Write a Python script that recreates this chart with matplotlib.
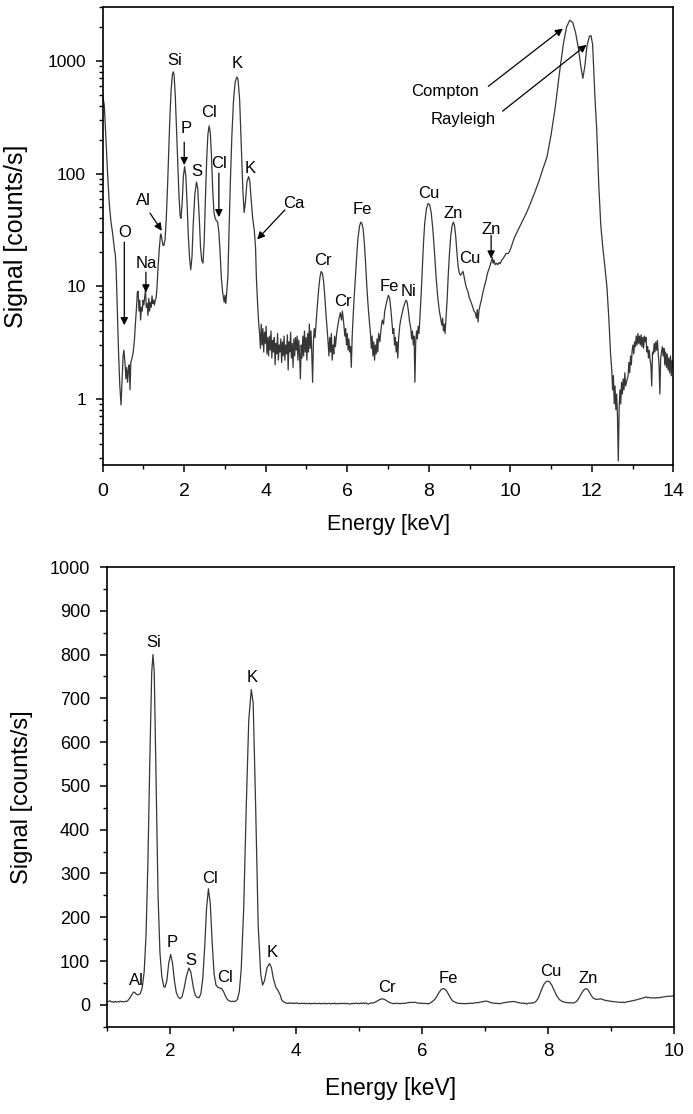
import numpy as np
import matplotlib
matplotlib.use("Agg")
import matplotlib.pyplot as plt
from matplotlib.ticker import MultipleLocator, LogLocator, NullFormatter

plt.rcParams['font.family'] = ['Liberation Sans', 'DejaVu Sans']

# spectrum (energy in keV, signal in counts/s)
energy_low = [0.00, 0.04, 0.08, 0.12, 0.16, 0.20, 0.24, 0.27, 0.29, 0.31, 0.33, 0.36, 0.39, 0.42, 0.45,
              0.48, 0.50, 0.52, 0.55, 0.57, 0.59, 0.61, 0.63, 0.65, 0.67, 0.69, 0.72, 0.75, 0.78, 0.80,
              0.83, 0.85, 0.87, 0.89, 0.91, 0.93, 0.95, 0.97, 0.99, 1.01, 1.03, 1.05, 1.07, 1.09, 1.11,
              1.13, 1.15, 1.17, 1.19, 1.21, 1.23, 1.25, 1.27, 1.29, 1.31, 1.33, 1.36, 1.39, 1.42, 1.44,
              1.46, 1.48, 1.50, 1.53, 1.56, 1.59, 1.62, 1.65, 1.68, 1.71, 1.73, 1.75, 1.78, 1.81, 1.84,
              1.87, 1.90, 1.92, 1.95, 1.98, 2.01, 2.04, 2.07, 2.10, 2.13, 2.16, 2.19, 2.22, 2.26, 2.30,
              2.33, 2.37, 2.40, 2.43, 2.46, 2.49, 2.52, 2.55, 2.58, 2.61, 2.64, 2.67, 2.70, 2.73, 2.76,
              2.79, 2.82, 2.85, 2.88, 2.91, 2.94, 2.96, 2.98, 3.00, 3.02, 3.04, 3.07, 3.10, 3.13, 3.17,
              3.21, 3.25, 3.29, 3.32, 3.36, 3.40, 3.44, 3.47, 3.50, 3.54, 3.58, 3.61, 3.64, 3.68, 3.72,
              3.75, 3.77, 3.80, 3.83]
signal_low = [500, 400, 200, 100, 55, 38, 30, 24, 21, 19, 14, 6, 2.5, 1.3, 0.88,
              1.6, 2.4, 2.7, 2.0, 1.5, 1.9, 1.4, 1.8, 2.0, 1.2, 2.1, 2.3, 2.6, 3.4, 4.5,
              6.5, 8.8, 9.0, 6.0, 7.5, 5.0, 6.5, 6.0, 7.5, 6.8, 8.0, 9.2, 6.5, 7.0, 5.5,
              7.8, 6.0, 7.2, 6.5, 8.2, 7.0, 7.5, 6.8, 7.6, 7.8, 9.5, 15, 22, 29, 28,
              25, 23, 23, 26, 40, 75, 160, 330, 560, 760, 800, 760, 500, 250, 120,
              65, 42, 40, 55, 95, 115, 95, 55, 28, 18, 14, 18, 35, 65, 84,
              75, 40, 22, 17, 16, 25, 60, 130, 220, 265, 230, 140, 70, 45, 40,
              38, 37, 30, 20, 12, 9, 8, 7.2, 8.3, 7.0, 8.5, 12, 30, 80, 220,
              450, 650, 720, 690, 450, 180, 70, 45, 55, 85, 94, 85, 60, 40, 31,
              22, 12, 7, 4.5]

energy_mid = [3.85, 3.87, 3.89, 3.91, 3.93, 3.95, 3.97, 3.99, 4.01, 4.03, 4.05, 4.07, 4.09, 4.11, 4.13,
              4.15, 4.17, 4.19, 4.21, 4.23, 4.25, 4.27, 4.29, 4.31, 4.33, 4.35, 4.37, 4.39, 4.41, 4.43,
              4.45, 4.47, 4.49, 4.51, 4.53, 4.55, 4.57, 4.59, 4.61, 4.63, 4.65, 4.67, 4.69, 4.71, 4.73,
              4.75, 4.77, 4.79, 4.81, 4.83, 4.85, 4.87, 4.89, 4.91, 4.93, 4.95, 4.97, 4.99, 5.01, 5.03,
              5.05, 5.07, 5.09, 5.11, 5.13, 5.15, 5.17, 5.19, 5.21, 5.24, 5.27, 5.30, 5.33, 5.36, 5.39,
              5.42, 5.45, 5.48, 5.51, 5.53, 5.55, 5.57, 5.59, 5.61, 5.63, 5.65, 5.67, 5.69, 5.71, 5.74,
              5.77, 5.80, 5.83, 5.86, 5.88, 5.90, 5.92, 5.94, 5.96, 5.98, 6.00, 6.02, 6.04, 6.06, 6.08,
              6.10, 6.12, 6.14, 6.17, 6.20, 6.23, 6.26, 6.30, 6.33, 6.36, 6.39, 6.42, 6.45, 6.48, 6.51,
              6.54, 6.57, 6.59, 6.61, 6.63, 6.65, 6.67, 6.69, 6.71, 6.73, 6.75, 6.77, 6.80, 6.83, 6.86,
              6.89, 6.92, 6.95, 6.98, 7.01, 7.04, 7.07, 7.10, 7.12, 7.14, 7.16, 7.18, 7.20, 7.22, 7.24,
              7.26, 7.29, 7.32, 7.35, 7.38, 7.41, 7.44, 7.47, 7.50, 7.53, 7.56, 7.58, 7.60, 7.62, 7.64,
              7.66, 7.68, 7.70, 7.72, 7.74, 7.76, 7.78]
signal_mid = [3.8, 2.8, 4.6, 3.0, 4.2, 2.6, 3.9, 3.1, 4.4, 2.5, 3.5, 2.4, 3.6, 2.7, 4.0,
              2.3, 3.3, 2.6, 3.5, 2.0, 3.1, 2.5, 3.8, 2.2, 3.0, 2.6, 3.4, 2.1, 3.2, 2.4,
              3.6, 2.2, 3.0, 2.5, 3.7, 1.8, 3.2, 2.6, 3.9, 2.3, 3.1, 1.9, 3.4, 2.4, 3.5,
              2.7, 3.6, 2.2, 3.3, 2.5, 1.5, 3.0, 2.3, 3.6, 2.4, 4.0, 2.6, 3.5, 2.2, 3.8,
              2.6, 4.6, 2.8, 4.0, 2.5, 1.4, 3.2, 4.2, 3.5, 5.0, 7.0, 9.5, 12, 13.5, 13,
              11, 8, 5.5, 4.0, 3.2, 2.4, 3.5, 2.6, 3.8, 2.2, 3.0, 2.5, 3.6, 2.9, 3.8,
              4.5, 5.2, 5.8, 5.0, 6.0, 5.2, 4.4, 3.6, 4.2, 3.0, 3.8, 2.7, 3.4, 2.6, 2.9,
              1.9, 3.5, 5.0, 8, 12, 18, 26, 34, 37, 36, 32, 24, 16, 10, 6.8,
              5.0, 3.8, 2.8, 3.6, 2.4, 3.2, 2.2, 3.0, 2.5, 3.4, 2.6, 3.8, 3.2, 4.2, 5.0,
              4.6, 6.0, 6.8, 7.6, 8.3, 7.8, 6.2, 4.6, 3.8, 4.2, 3.0, 3.5, 2.6, 3.2, 2.3,
              3.4, 4.5, 5.2, 5.8, 6.5, 7.0, 7.5, 7.2, 6.0, 4.8, 4.2, 3.4, 4.0, 3.0, 3.6,
              1.4, 3.2, 4.0, 3.4, 4.4, 3.8, 5.0]

energy_high = [7.81, 7.84, 7.87, 7.90, 7.94, 7.98, 8.02, 8.06, 8.10, 8.14, 8.18, 8.22, 8.26, 8.29, 8.32,
               8.34, 8.36, 8.38, 8.40, 8.42, 8.45, 8.48, 8.51, 8.54, 8.57, 8.60, 8.63, 8.66, 8.69, 8.72,
               8.75, 8.78, 8.81, 8.84, 8.87, 8.90, 8.93, 8.96, 8.99, 9.02, 9.05, 9.08, 9.11, 9.14, 9.17,
               9.19, 9.21, 9.23, 9.26, 9.29, 9.32, 9.35, 9.38, 9.41, 9.44, 9.47, 9.50, 9.53, 9.56, 9.58,
               9.60, 9.63, 9.66, 9.69, 9.72, 9.75, 9.78, 9.82, 9.86, 9.90, 9.95, 10.00, 10.10, 10.20, 10.30,
               10.40, 10.50, 10.60, 10.70, 10.80, 10.90, 11.00, 11.10, 11.20, 11.30, 11.38, 11.46, 11.53, 11.60, 11.67,
               11.73, 11.78, 11.83, 11.88, 11.94, 11.98, 12.02, 12.08, 12.12, 12.17, 12.22, 12.27, 12.32, 12.37, 12.42,
               12.46, 12.49, 12.51, 12.53, 12.55, 12.57, 12.59, 12.61, 12.63, 12.65, 12.67, 12.69, 12.71, 12.73, 12.75,
               12.77, 12.79, 12.81, 12.83, 12.85, 12.87, 12.89, 12.91, 12.93, 12.95, 12.97, 12.99, 13.01, 13.03, 13.05,
               13.07, 13.09, 13.11, 13.13, 13.15, 13.17, 13.19, 13.21, 13.23, 13.25, 13.27, 13.29, 13.31, 13.33, 13.35,
               13.37, 13.39, 13.41, 13.43, 13.45, 13.47, 13.49, 13.51, 13.53, 13.55, 13.57, 13.59, 13.61, 13.63, 13.65,
               13.67, 13.69, 13.71, 13.73, 13.75, 13.77, 13.79, 13.81, 13.83, 13.85, 13.87, 13.89, 13.91, 13.93, 13.95,
               13.97, 14.00]
signal_high = [8, 14, 24, 36, 48, 54, 53, 45, 32, 20, 12, 8, 6.0, 5.2, 4.5,
               5.2, 4.0, 4.6, 3.8, 5.0, 7.5, 13, 20, 28, 34, 37, 35, 28, 20, 15,
               13, 12.5, 13, 13.5, 12, 10.5, 9.5, 9.0, 8.0, 7.5, 7.0, 6.5, 6.0, 5.8, 5.2,
               6.2, 4.8, 6.0, 6.8, 7.5, 8.5, 9.5, 10.5, 11.5, 13, 14, 15, 16.5, 18, 16,
               17, 15.5, 16, 15.5, 16.2, 15.8, 16.8, 17.5, 18.5, 19.5, 19.5, 21, 27, 32, 38,
               45, 55, 68, 85, 110, 140, 220, 380, 750, 1400, 2000, 2300, 2200, 1800, 1300,
               900, 700, 900, 1350, 1650, 1680, 1400, 450, 250, 80, 35, 22, 15, 10, 5,
               2.5, 1.8, 1.2, 1.6, 0.9, 1.3, 0.8, 1.1, 0.7, 0.28, 0.8, 1.2, 0.9, 1.4, 1.1,
               1.5, 1.2, 1.7, 1.3, 1.4, 1.5, 1.6, 2.1, 1.7, 2.4, 2.0, 2.7, 3.0, 2.5, 3.2,
               2.9, 3.6, 3.0, 3.8, 3.1, 3.6, 3.0, 3.7, 2.9, 3.5, 2.8, 3.6, 3.2, 3.5, 2.6,
               2.9, 2.3, 2.7, 2.2, 2.0, 1.3, 2.6, 2.5, 3.1, 2.6, 3.2, 2.7, 3.3, 2.5, 2.0,
               1.1, 2.3, 2.6, 2.9, 2.4, 2.8, 2.0, 2.6, 1.9, 2.5, 1.8, 2.3, 1.7, 2.4, 1.6,
               2.2, 1.9]

energy = np.array(energy_low + energy_mid + energy_high)
signal = np.array(signal_low + signal_mid + signal_high)

# labels on the log panel: (text, x, y)
top_labels = [("O", 0.55, 30), ("Na", 1.06, 16), ("Al", 1.01, 58), ("Si", 1.77, 1000),
              ("P", 2.06, 253), ("S", 2.32, 104), ("Cl", 2.62, 345), ("Cl", 2.85, 123),
              ("K", 3.30, 950), ("K", 3.63, 111), ("Ca", 4.69, 54.5), ("Cr", 5.41, 17),
              ("Cr", 5.90, 7.3), ("Fe", 6.37, 48), ("Fe", 7.02, 10), ("Ni", 7.50, 9),
              ("Cu", 8.01, 66), ("Zn", 8.60, 44), ("Cu", 9.01, 17.6), ("Zn", 9.53, 32),
              ("Compton", 8.40, 532), ("Rayleigh", 8.85, 299)]
# arrows: (tail x, tail y, head x, head y)
top_arrows = [(0.53, 24.6, 0.53, 4.5), (1.06, 13.3, 1.06, 8.8), (1.16, 44.5, 1.45, 31),
              (2.00, 190, 2.00, 119), (2.85, 101, 2.85, 41), (4.47, 47.5, 3.79, 26),
              (9.53, 28.3, 9.53, 17.6), (9.46, 595, 11.29, 1940), (9.81, 358, 11.87, 1390)]

# labels on the linear panel
bottom_labels = [("Al", 1.46, 55), ("Si", 1.74, 828), ("P", 2.04, 142), ("S", 2.33, 102),
                 ("Cl", 2.63, 289), ("Cl", 2.87, 63), ("K", 3.30, 747), ("K", 3.62, 120),
                 ("Cr", 5.45, 40), ("Fe", 6.41, 59), ("Cu", 8.04, 76), ("Zn", 8.63, 59)]

line_color = '#363636'

fig = plt.figure(figsize=(6.93, 11.14), dpi=100)

# ---- top panel (log) ----
ax1 = fig.add_axes([0.1482, 0.5826, 0.8234, 0.4111])
ax1.semilogy(energy, signal, color=line_color, lw=0.9)
ax1.set_xlim(0, 14)
ax1.set_ylim(0.258, 3012)
ax1.xaxis.set_major_locator(MultipleLocator(2))
ax1.xaxis.set_minor_locator(MultipleLocator(1))
ax1.yaxis.set_minor_locator(LogLocator(base=10, subs=np.arange(2, 10)))
ax1.yaxis.set_minor_formatter(NullFormatter())
ax1.set_yticks([1, 10, 100, 1000])
ax1.set_yticklabels(['1', '10', '100', '1000'])
ax1.tick_params(axis='x', which='major', direction='out', length=5, width=1.1, labelsize=14, pad=8)
ax1.tick_params(axis='y', which='major', direction='out', length=5, width=1.1, labelsize=12.5, pad=7)
ax1.tick_params(which='minor', direction='out', length=3, width=1.0)
ax1.set_xlabel("Energy [keV]", fontsize=15.5, labelpad=10)
ax1.set_ylabel("Signal [counts/s]", fontsize=18, labelpad=14)
for sp in ax1.spines.values():
    sp.set_linewidth(1.2)

for txt, x, y in top_labels:
    ax1.text(x, y, txt, ha='center', va='center', fontsize=12)
for x0, y0, x1, y1 in top_arrows:
    ax1.annotate('', xy=(x1, y1), xytext=(x0, y0),
                 arrowprops=dict(arrowstyle='-|>', color='black', lw=0.9,
                                 mutation_scale=11, shrinkA=0, shrinkB=0))

# ---- bottom panel (linear) ----
ax2 = fig.add_axes([0.1544, 0.0784, 0.8182, 0.4126])
ax2.plot(energy, signal, color=line_color, lw=0.9)
ax2.set_xlim(1, 10)
ax2.set_ylim(-50, 1000)
ax2.xaxis.set_major_locator(MultipleLocator(2))
ax2.xaxis.set_minor_locator(MultipleLocator(1))
ax2.yaxis.set_major_locator(MultipleLocator(100))
ax2.yaxis.set_minor_locator(MultipleLocator(50))
ax2.tick_params(axis='x', which='major', direction='out', length=5, width=1.1, labelsize=13.5, pad=7)
ax2.tick_params(axis='y', which='major', direction='out', length=5, width=1.1, labelsize=13, pad=7)
ax2.tick_params(which='minor', direction='out', length=3, width=1.0)
ax2.set_xlabel("Energy [keV]", fontsize=16.5, labelpad=12)
ax2.set_ylabel("Signal [counts/s]", fontsize=17, labelpad=12)
for sp in ax2.spines.values():
    sp.set_linewidth(1.2)

for txt, x, y in bottom_labels:
    ax2.text(x, y, txt, ha='center', va='center', fontsize=12)

fig.savefig("out.png", dpi=100)
